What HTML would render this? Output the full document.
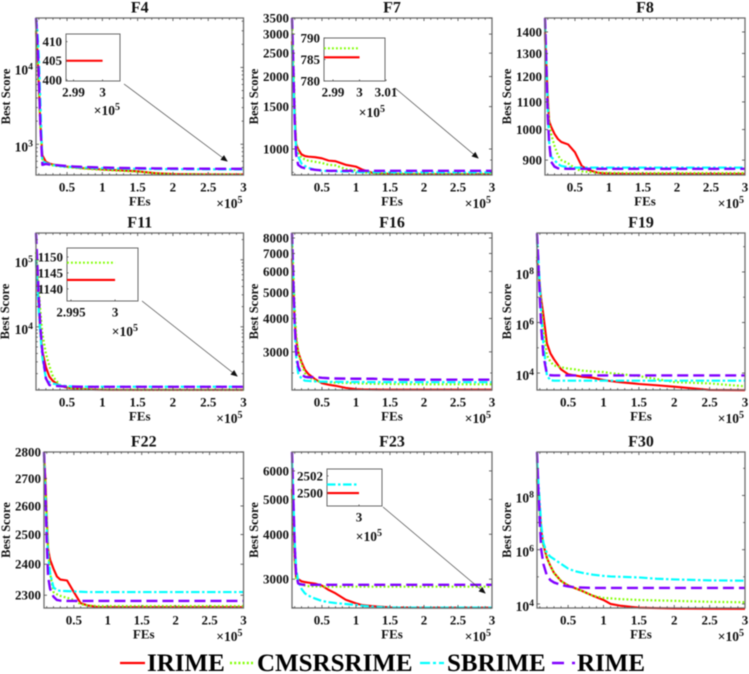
<!DOCTYPE html>
<html lang="en">
<head>
<meta charset="utf-8">
<title>Convergence curves</title>
<style>
html,body{margin:0;padding:0;background:#fff;width:749px;height:674px;overflow:hidden}
svg{display:block;filter:blur(.5px)}
text{font-family:"Liberation Serif",serif;font-weight:bold;fill:#111}
</style>
</head>
<body>
<svg id="chart" xmlns="http://www.w3.org/2000/svg" width="749" height="674" viewBox="0 0 749 674">
<defs>
<marker id="arrow-head" markerWidth="7" markerHeight="6" refX="6" refY="3" orient="auto" markerUnits="userSpaceOnUse"><path d="M0 0L7 3L0 6Z" fill="#111"/></marker>
</defs>
<g>
<line x1="120" x2="145" y1="663" y2="663" stroke="#ff0000" stroke-width="2.2"/>
<text x="147" y="671" font-size="25" style="fill:#000">IRIME</text>
<line x1="230" x2="255" y1="663" y2="663" stroke="#80ff00" stroke-width="2.4" stroke-dasharray="2 2.2"/>
<text x="257" y="671" font-size="25" style="fill:#000">CMSRSRIME</text>
<line x1="420" x2="444" y1="663" y2="663" stroke="#00ffff" stroke-width="2.2" stroke-dasharray="10 3 3 3"/>
<text x="447" y="671" font-size="25" style="fill:#000">SBRIME</text>
<line x1="552" x2="575" y1="663" y2="663" stroke="#8000ff" stroke-width="2.4" stroke-dasharray="12 8"/>
<text x="577" y="671" font-size="25" style="fill:#000">RIME</text>
</g>
</svg>
<script>
// Shared FEs sample positions (x 10^5)
const feGrid = [0.06,0.08,0.1,0.12,0.15,0.2,0.25,0.3,0.4,0.5,0.6,0.7,0.85,1,1.1,1.25,1.5,1.75,2,2.5,3];
const xTickValues = [0.5,1,1.5,2,2.5,3];
const xTickLabels = ['0.5','1','1.5','2','2.5','3'];

// F4
const f4Irime = [30000,16000,6000,2000,720,590,560,545,525,510,500,490,480,470,465,458,445,420,410,405,405];
const f4Cms = [30000,16000,6000,1800,640,570,545,530,515,505,495,485,475,465,460,452,440,418,408,405,405];
const f4Sb = [44000,30000,14000,4000,600,570,550,535,520,510,503,498,492,488,485,482,478,476,474,472,470];
const f4Rime = [44000,22000,8000,2000,540,555,545,540,530,520,513,508,503,498,495,492,488,485,482,480,478];
const f4YTicks = [1000,10000];
const f4YLabels = [[10,3],[10,4]];
// F7
const f7Irime = [2800,2000,1400,1050,1000,950,935,930,925,915,895,890,860,845,820,795,788,786,785,785,785];
const f7Cms = [3400,2300,1500,1050,960,920,905,895,885,875,860,855,825,815,800,793,790,789,788,787.5,787.5];
const f7Sb = [2700,1900,1300,1000,930,870,850,835,820,812,810,808,806,803,802,801,800,800,800,800,800];
const f7Rime = [3500,2200,1300,950,860,840,832,828,820,815,812,812,812,812,812,812,812,812,812,812,812];
const f7YTicks = [1000,1500,2000,2500,3000,3500];
const f7YLabels = ['1000','1500','2000','2500','3000','3500'];
// F8
const f8Irime = [1400,1250,1120,1030,1010,985,968,958,950,925,882,870,861,859,859,858,858,858,858,858,858];
const f8Cms = [1430,1280,1120,1020,985,945,915,900,890,875,866,864,862,861,861,860.5,860.5,860.5,860.5,860.5,860.5];
const f8Sb = [1440,1250,1080,960,910,900,888,882,878,877,877,877,877,877,877,877,877,877,877,877,877];
const f8Rime = [1469,1250,1050,960,895,880,875,874,873.5,873.5,873.5,873.5,873.5,873.5,873.5,873.5,873.5,873.5,873.5,873.5,873.5];
const f8YTicks = [900,1000,1100,1200,1300,1400];
const f8YLabels = ['900','1000','1100','1200','1300','1400'];
// F11
const f11Irime = [100000,50000,20000,9000,4300,2500,1800,1550,1320,1240,1200,1180,1160,1150,1147,1145,1144,1143,1143,1142.5,1142.5];
const f11Cms = [130000,70000,35000,18000,8000,4000,2600,1800,1350,1250,1210,1190,1170,1160,1155,1152,1150,1149,1148,1148,1148];
const f11Sb = [100000,40000,17000,8000,3500,1700,1500,1420,1340,1300,1285,1280,1275,1275,1275,1275,1275,1275,1275,1275,1275];
const f11Rime = [251000,80000,28000,11000,4200,1700,1350,1320,1300,1285,1280,1275,1272,1270,1270,1270,1270,1270,1270,1270,1270];
const f11YTicks = [10000,100000];
const f11YLabels = [[10,4],[10,5]];
// F16
const f16Irime = [6700,5200,3900,3350,3000,2750,2570,2480,2370,2290,2260,2240,2200,2175,2170,2168,2165,2165,2165,2165,2165];
const f16Cms = [8000,6000,4400,3500,3000,2700,2500,2420,2340,2320,2305,2300,2295,2290,2285,2280,2275,2272,2270,2270,2270];
const f16Sb = [8000,5500,3800,2900,2500,2380,2340,2335,2325,2320,2318,2316,2315,2314,2313,2312,2311,2310,2310,2310,2310];
const f16Rime = [8350,5500,3800,3000,2650,2470,2420,2410,2415,2400,2390,2385,2382,2380,2380,2380,2365,2362,2360,2360,2360];
const f16YTicks = [3000,4000,5000,6000,7000,8000];
const f16YLabels = ['3000','4000','5000','6000','7000','8000'];
// F19
const f19Irime = [3e8,1e8,3e7,8e6,2e6,1.5e5,6e4,3.5e4,1.4e4,9000,8000,7200,6500,5300,4800,4300,3700,3300,2900,2150,2100];
const f19Cms = [4e8,1.5e8,3e7,5e6,6e5,5e4,2.8e4,2e4,1.7e4,1.5e4,1.4e4,1.25e4,1.15e4,1.1e4,1e4,9000,7600,5800,4400,3900,3000];
const f19Sb = [2e9,3e8,3e7,2e6,1.5e5,8000,5200,5000,5000,5000,5000,5000,5000,5000,5000,5000,5000,5000,5000,5000,5000];
const f19Rime = [3.4e9,2e8,1e7,6e5,5e4,9000,8200,8100,8100,8100,8100,8100,8100,8100,8100,8100,8100,8100,8100,8100,8100];
const f19YTicks = [1e4,1e6,1e8];
const f19YLabels = [[10,4],[10,6],[10,8]];
// F22
const f22Irime = [2790,2700,2560,2450,2415,2385,2360,2350,2347,2310,2275,2268,2263,2262.5,2262.5,2262.5,2262.5,2262.5,2262.5,2262.5,2262.5];
const f22Cms = [2770,2680,2560,2450,2370,2310,2303,2298,2292,2285,2272,2268,2266,2266,2266,2266,2266,2266,2266,2266,2266];
const f22Sb = [2790,2650,2530,2430,2370,2325,2316,2314,2313,2312,2311,2310,2310,2310,2310,2310,2310,2310,2310,2310,2310];
const f22Rime = [2800,2650,2480,2360,2320,2295,2285,2283,2282,2282,2282,2282,2282,2282,2282,2282,2282,2282,2282,2282,2282];
const f22YTicks = [2300,2400,2500,2600,2700,2800];
const f22YLabels = ['2300','2400','2500','2600','2700','2800'];
// F23
const f23Irime = [5340,4300,3400,3050,3000,2960,2945,2935,2915,2880,2800,2740,2630,2570,2540,2525,2505,2502,2500,2500,2500];
const f23Cms = [5200,4200,3400,3000,2950,2900,2880,2870,2865,2862,2860,2860,2860,2860,2860,2860,2860,2860,2860,2860,2860];
const f23Sb = [6400,5000,3800,3200,2980,2820,2740,2700,2650,2610,2590,2575,2560,2545,2530,2515,2503,2502,2501,2501,2501];
const f23Rime = [6772,5000,3700,3100,2920,2900,2895,2895,2895,2895,2895,2895,2895,2895,2895,2895,2895,2895,2895,2895,2895];
const f23YTicks = [3000,4000,5000,6000];
const f23YLabels = ['3000','4000','5000','6000'];
// F30
const f30Irime = [4e8,1.2e8,3e7,5e6,1.5e6,5e5,2.5e5,1.4e5,7e4,4.8e4,3.8e4,3e4,2e4,1.4e4,1e4,8500,7300,7000,6800,6700,6600];
const f30Cms = [4e8,1.2e8,3e7,5e6,1.5e6,5e5,2.5e5,1.4e5,7e4,4.8e4,3.8e4,3e4,2e4,1.66e4,1.6e4,1.5e4,1.4e4,1.35e4,1.3e4,1.2e4,1.15e4];
const f30Sb = [2e9,3e8,5e7,8e6,1.8e6,7.5e5,5.5e5,4.5e5,3e5,2e5,1.6e5,1.4e5,1.2e5,1.08e5,1.03e5,1e5,9.5e4,8.5e4,8e4,7.4e4,7.2e4];
const f30Rime = [4e9,1.5e8,1e7,1e6,3e5,1.1e5,7.5e4,6.2e4,5e4,4.4e4,4.1e4,4e4,3.9e4,3.9e4,3.9e4,3.9e4,3.9e4,3.9e4,3.9e4,3.9e4,3.9e4];
const f30YTicks = [1e4,1e6,1e8];
const f30YLabels = [[10,4],[10,6],[10,8]];

// Inset data
const f4InsetX = [2.9874,3];
const f4InsetIrime = [405,405];
const f4InsetXTicks = [2.99,3];
const f4InsetXLabels = ['2.99','3'];
const f4InsetYTicks = [400,405,410];
const f4InsetYLabels = ['400','405','410'];
const f7InsetX = [2.9866,3];
const f7InsetIrime = [785.5,785.5];
const f7InsetCms = [787.6,787.6];
const f7InsetXTicks = [2.99,3,3.01];
const f7InsetXLabels = ['2.99','3','3.01'];
const f7InsetYTicks = [780,785,790];
const f7InsetYLabels = ['780','785','790'];
const f11InsetX = [2.99455,3];
const f11InsetIrime = [1142.8,1142.8];
const f11InsetCms = [1148.2,1148.2];
const f11InsetXTicks = [2.995,3];
const f11InsetXLabels = ['2.995','3'];
const f11InsetYTicks = [1140,1145,1150];
const f11InsetYLabels = ['1140','1145','1150'];
const f23InsetX = [2.968,3];
const f23InsetIrime = [2500,2500];
const f23InsetSb = [2501,2501];
const f23InsetXTicks = [3];
const f23InsetXLabels = ['3'];
const f23InsetYTicks = [2500,2502];
const f23InsetYLabels = ['2500','2502'];

const seriesStyles = {
  irime:{color:'#ff0000',width:2.1,dash:''},
  cmsrsrime:{color:'#80ff00',width:2.2,dash:'1.8 2.2'},
  sbrime:{color:'#00ffff',width:2.2,dash:'8.5 2.5 2.5 2.5'},
  rime:{color:'#8000ff',width:2.4,dash:'11 5'}
};

const panels = [
 {id:'f4',title:'F4',box:[36,243.5,18,175],ylim:[398,44000],labelX:6,ticks:f4YTicks,labels:f4YLabels,minor:[2e3,3e3,4e3,5e3,6e3,7e3,8e3,9e3,500,600,700,800,900,2e4,3e4,4e4],
  irime:f4Irime,cms:f4Cms,sb:f4Sb,rime:f4Rime,
  inset:{box:[66,120,34,81],xlim:[2.9874,3.006],ylim:[399.7,412],x:f4InsetX,irime:f4InsetIrime,xt:f4InsetXTicks,xl:f4InsetXLabels,yt:f4InsetYTicks,yl:f4InsetYLabels,expY:115,arrow:[124,84,227,161]}},
 {id:'f7',title:'F7',box:[292,492,18,175],ylim:[780,3500],labelX:254,ticks:f7YTicks,labels:f7YLabels,minor:[800,900],
  irime:f7Irime,cms:f7Cms,sb:f7Sb,rime:f7Rime,
  inset:{box:[324,385,38,81],xlim:[2.9866,3.0096],ylim:[780,790],x:f7InsetX,irime:f7InsetIrime,cms:f7InsetCms,xt:f7InsetXTicks,xl:f7InsetXLabels,yt:f7InsetYTicks,yl:f7InsetYLabels,expY:117,arrow:[395,88,478,158]}},
 {id:'f8',title:'F8',box:[545,745,18,175],ylim:[855,1469],labelX:507,ticks:f8YTicks,labels:f8YLabels,minor:[],
  irime:f8Irime,cms:f8Cms,sb:f8Sb,rime:f8Rime},
 {id:'f11',title:'F11',box:[36,243.5,233,390],ylim:[1140,251000],labelX:5,ticks:f11YTicks,labels:f11YLabels,minor:[2e3,3e3,4e3,5e3,6e3,7e3,8e3,9e3,2e4,3e4,4e4,5e4,6e4,7e4,8e4,9e4,2e5],
  irime:f11Irime,cms:f11Cms,sb:f11Sb,rime:f11Rime,
  inset:{box:[67,138,248,301],xlim:[2.99455,3.0026],ylim:[1136.2,1152.8],x:f11InsetX,irime:f11InsetIrime,cms:f11InsetCms,xt:f11InsetXTicks,xl:f11InsetXLabels,yt:f11InsetYTicks,yl:f11InsetYLabels,expY:336,arrow:[142,301,237,376]}},
 {id:'f16',title:'F16',box:[292,492,233,390],ylim:[2160,8350],labelX:254,ticks:f16YTicks,labels:f16YLabels,minor:[2500],
  irime:f16Irime,cms:f16Cms,sb:f16Sb,rime:f16Rime},
 {id:'f19',title:'F19',box:[537,745,233,390],ylim:[2140,3.47e9],labelX:507,ticks:f19YTicks,labels:f19YLabels,minor:[1e5,1e7,1e9],
  irime:f19Irime,cms:f19Cms,sb:f19Sb,rime:f19Rime},
 {id:'f22',title:'F22',box:[44,243.5,452,608],ylim:[2260,2800],labelX:6,ticks:f22YTicks,labels:f22YLabels,minor:[],
  irime:f22Irime,cms:f22Cms,sb:f22Sb,rime:f22Rime},
 {id:'f23',title:'F23',box:[292,492,452,608],ylim:[2495,6772],labelX:254,ticks:f23YTicks,labels:f23YLabels,minor:[2500],
  irime:f23Irime,cms:f23Cms,sb:f23Sb,rime:f23Rime,
  inset:{box:[327,382,469,506],xlim:[2.968,3.023],ylim:[2498.5,2502.8],x:f23InsetX,irime:f23InsetIrime,sb:f23InsetSb,xt:f23InsetXTicks,xl:f23InsetXLabels,yt:f23InsetYTicks,yl:f23InsetYLabels,expY:541,arrow:[383,507,485,593]}},
 {id:'f30',title:'F30',box:[537,745,452,608],ylim:[7080,4e9],labelX:507,ticks:f30YTicks,labels:f30YLabels,minor:[1e5,1e7,1e9],
  irime:f30Irime,cms:f30Cms,sb:f30Sb,rime:f30Rime}
];

const NS = 'http://www.w3.org/2000/svg';
const root = document.getElementById('chart');

function node(parent, tag, attrs){
  const el = document.createElementNS(NS, tag);
  for (const k in attrs) el.setAttribute(k, attrs[k]);
  parent.appendChild(el);
  return el;
}
function logScale(lim, y0, y1){
  const a = Math.log(lim[0]), b = Math.log(lim[1]);
  return v => y0 + (Math.log(v) - a) / (b - a) * (y1 - y0);
}
function linScale(lim, x0, x1){
  return v => x0 + (v - lim[0]) / (lim[1] - lim[0]) * (x1 - x0);
}
function pathOf(xs, ys, sx, sy){
  return xs.map((x, i) => (i ? 'L' : 'M') + sx(x).toFixed(2) + ' ' + sy(ys[i]).toFixed(2)).join('');
}
function tickMark(g, x1, y1, x2, y2, w){
  const t = node(g, 'line', {x1:x1, y1:y1, x2:x2, y2:y2, stroke:'#555', 'stroke-width':w || 0.9});
  
  
  return t;
}
function addText(g, str, x, y, size, anchor){
  const t = node(g, 'text', {x:x, y:y, 'font-size':size, 'text-anchor':anchor});
  t.textContent = str;
  return t;
}
function addPower(g, pair, x, y, size){
  const t = node(g, 'text', {x:x, y:y, 'font-size':size, 'text-anchor':'end'});
  t.appendChild(document.createTextNode(String(pair[0])));
  const s = node(t, 'tspan', {dy:-5, 'font-size':size * 0.72});
  s.textContent = pair[1];
  return t;
}
function addExponent(g, xRight, y){
  const t = node(g, 'text', {x:xRight, y:y, 'font-size':13.5, 'text-anchor':'end'});
  t.appendChild(document.createTextNode('\u00d710'));
  const s = node(t, 'tspan', {dy:-5, 'font-size':10});
  s.textContent = '5';
  
  
}
function drawSeries(g, key, xs, ys, sx, sy, pid){
  const st = seriesStyles[key];
  const p = node(g, 'path', {d:pathOf(xs, ys, sx, sy), fill:'none', stroke:st.color, 'stroke-width':st.width, 'stroke-dasharray':st.dash, 'stroke-linejoin':'round'});
  
  
}

panels.forEach(cfg => {
  const [L, R, T, B] = cfg.box;
  const g = node(root, 'g', {});
  
  
  const sx = linScale([0.06, 3], L, R);
  const sy = logScale(cfg.ylim, B, T);

  drawSeries(g, 'irime', feGrid, cfg.irime, sx, sy, cfg.id);
  drawSeries(g, 'cmsrsrime', feGrid, cfg.cms, sx, sy, cfg.id);
  drawSeries(g, 'sbrime', feGrid, cfg.sb, sx, sy, cfg.id);
  drawSeries(g, 'rime', feGrid, cfg.rime, sx, sy, cfg.id);

  const frame = node(g, 'rect', {x:L, y:T, width:R - L, height:B - T, fill:'none', stroke:'#6e6e6e', 'stroke-width':1.3});
  
  

  for (let i = 1; i <= 29; i++){
    const v = i / 10;
    if (v < 0.06) continue;
    const major = i % 5 === 0;
    const len = major ? 3 : 1.8;
    tickMark(g, sx(v), B, sx(v), B - len);
    tickMark(g, sx(v), T, sx(v), T + len);
  }
  xTickValues.forEach((v, i) => {
    const t = addText(g, xTickLabels[i], sx(v), B + 16.5, 13, 'middle');
    
    
  });
  cfg.ticks.forEach((v, i) => {
    const y = sy(v);
    tickMark(g, L, y, L + 3, y);
    tickMark(g, R, y, R - 3, y);
    const lab = cfg.labels[i];
    const t = Array.isArray(lab) ? addPower(g, lab, L - 3, y + 7, 13.5) : addText(g, lab, L - 3, y + 4.5, 13, 'end');
    
    
  });
  cfg.minor.forEach(v => {
    const y = sy(v);
    tickMark(g, L, y, L + 1.8, y);
    tickMark(g, R, y, R - 1.8, y);
  });

  const title = addText(g, cfg.title, (L + R) / 2, T - 5.5, 16, 'middle');
  
  
  const xl = addText(g, 'FEs', (L + R) / 2, B + 30.5, 13, 'middle');
  
  
  addExponent(g, R - 1, B + 33);
  const yl = addText(g, 'Best Score', 0, 0, 12.5, 'middle');
  yl.setAttribute('transform', 'translate(' + (cfg.labelX + 4) + ',' + ((T + B) / 2) + ') rotate(-90)');
  
  

  if (cfg.inset){
    const ins = cfg.inset;
    const [iL, iR, iT, iB] = ins.box;
    const ig = node(g, 'g', {});
    
    
    const isx = linScale(ins.xlim, iL, iR);
    const isy = linScale(ins.ylim, iB, iT);
    const ibox = node(ig, 'rect', {x:iL, y:iT, width:iR - iL, height:iB - iT, fill:'#fff', stroke:'#6a6a6a', 'stroke-width':1});
    
    
    drawSeries(ig, 'irime', ins.x, ins.irime, isx, isy, cfg.id + '-inset');
    if (ins.cms) drawSeries(ig, 'cmsrsrime', ins.x, ins.cms, isx, isy, cfg.id + '-inset');
    if (ins.sb) drawSeries(ig, 'sbrime', ins.x, ins.sb, isx, isy, cfg.id + '-inset');
    ins.xt.forEach((v, i) => {
      const t = addText(ig, ins.xl[i], isx(v), iB + 15.5, 13, 'middle');
      
      
      tickMark(ig, isx(v), iB, isx(v), iB - 1.5);
    });
    ins.yt.forEach((v, i) => {
      const t = addText(ig, ins.yl[i], iL - 4, isy(v) + 4.5, 13, 'end');
      
      
      tickMark(ig, iL, isy(v), iL + 1.5, isy(v));
    });
    addExponent(ig, iR, ins.expY);
    const a = ins.arrow;
    const arrow = node(ig, 'line', {x1:a[0], y1:a[1], x2:a[2], y2:a[3], stroke:'#444', 'stroke-width':0.7, 'marker-end':'url(#arrow-head)'});
    
    
  }
});
</script>
</body>
</html>
